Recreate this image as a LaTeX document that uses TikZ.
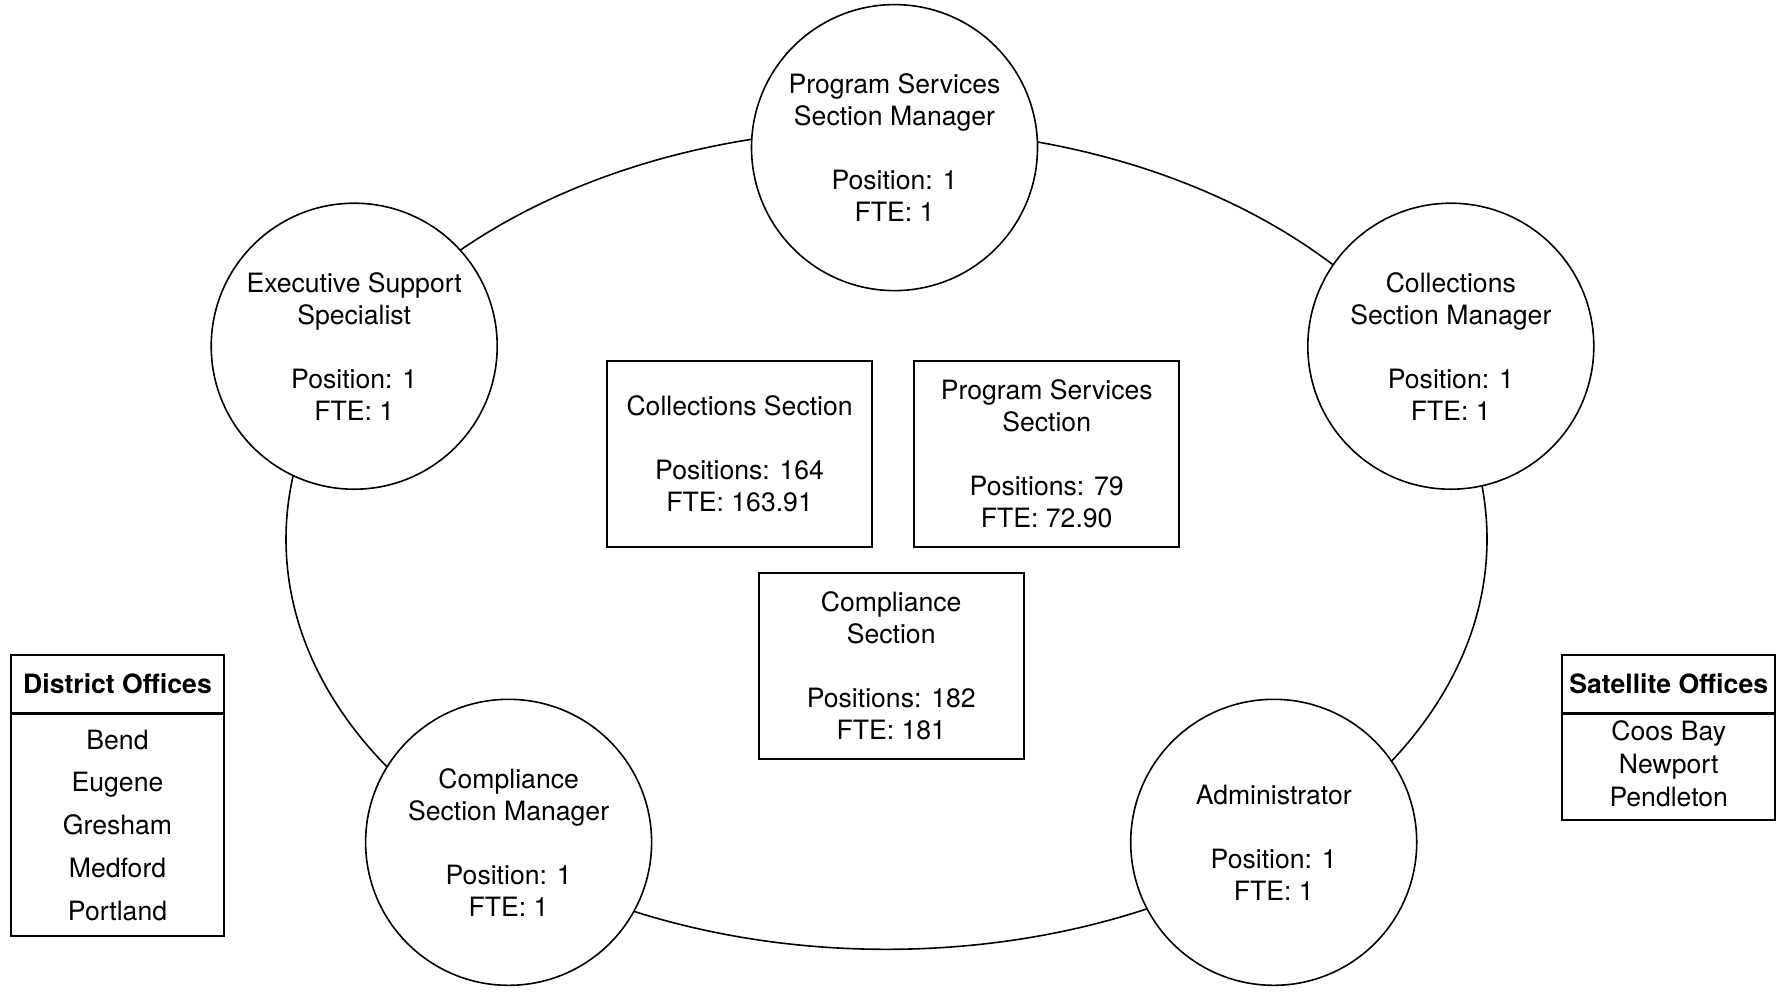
\documentclass[tikz,border=0pt]{standalone}
\usepackage{fontspec}
\setmainfont{TeX Gyre Heros}
\begin{document}
\begin{tikzpicture}[x=0.5pt,y=-0.5pt,
  every node/.style={font=\fontsize{13.3}{16}\selectfont, align=center, inner sep=0pt},
  role/.style={circle, draw, fill=white, line width=0.8pt, minimum size=143pt},
  unit/.style={rectangle, draw, line width=0.8pt, minimum width=132.5pt, minimum height=93pt},
  listhead/.style={rectangle, draw, line width=0.8pt, minimum width=106.5pt,
    minimum height=29pt, font=\fontsize{13.3}{16}\selectfont\bfseries},
  listbody/.style={rectangle, draw, line width=0.8pt, minimum width=106.5pt, anchor=north}]
\fill[white] (0,0) rectangle (1780,992);
\useasboundingbox (0,0) rectangle (1780,992);

% ring joining the five management roles
\draw[line width=0.8pt] (886.5,539.1) ellipse [x radius=300.25pt, y radius=205.1pt];

% management roles
\node[role] (psm) at (894.5,147.6) {Program Services\\Section Manager\\[16pt]Position: 1\\FTE: 1};
\node[role] (ess) at (354.2,346.2) {Executive Support\\Specialist\\[16pt]Position: 1\\FTE: 1};
\node[role] (csm) at (1450.8,346.2) {Collections\\Section Manager\\[16pt]Position: 1\\FTE: 1};
\node[role] (cmm) at (508.6,842.3) {Compliance\\Section Manager\\[16pt]Position: 1\\FTE: 1};
\node[role] (adm) at (1273.7,842.3) {Administrator\\[16pt]Position: 1\\FTE: 1};

% sections
\node[unit] (colsec) at (739.6,454.1) {Collections Section\\[16pt]Positions: 164\\FTE: 163.91};
\node[unit] (pssec) at (1046.7,454.1) {Program Services\\Section\\[16pt]Positions: 79\\FTE: 72.90};
\node[unit] (cmpsec) at (891.2,665.8) {Compliance\\Section\\[16pt]Positions: 182\\FTE: 181};

% office lists
\node[listhead] (dhead) at (117.5,684) {District Offices};
\node[listbody, minimum height=110.6pt, font=\fontsize{13.3}{21.4}\selectfont] (dbody) at (dhead.south)
  {Bend\\Eugene\\Gresham\\Medford\\Portland};
\node[listhead] (shead) at (1668.7,684) {Satellite Offices};
\node[listbody, minimum height=52.75pt, text depth=3.6pt, font=\fontsize{13.3}{16.5}\selectfont] (sbody) at (shead.south)
  {Coos Bay\\Newport\\Pendleton};
\end{tikzpicture}
\end{document}
